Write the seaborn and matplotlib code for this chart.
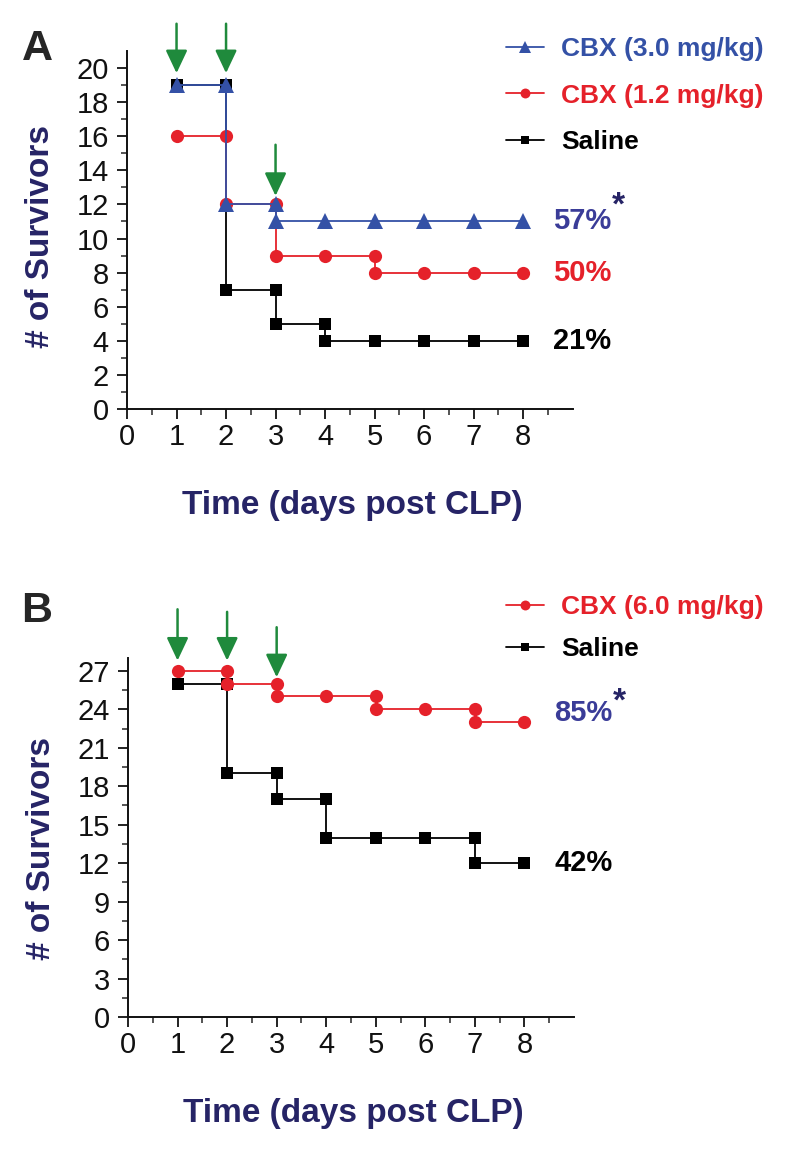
import numpy as np
import pandas as pd
import matplotlib
matplotlib.use("Agg")
import matplotlib.pyplot as plt
import seaborn as sns

# ---- data ----
# Panel A: survivors per day, drop points repeated at the same day
DAYS_A_CBX30 = [1, 2, 2, 3, 3, 4, 5, 6, 7, 8]
SURV_A_CBX30 = [19, 19, 12, 12, 11, 11, 11, 11, 11, 11]
DAYS_A_CBX12 = [1, 2, 2, 3, 3, 4, 5, 5, 6, 7, 8]
SURV_A_CBX12 = [16, 16, 12, 12, 9, 9, 9, 8, 8, 8, 8]
DAYS_A_SAL = [1, 2, 2, 3, 3, 4, 4, 5, 6, 7, 8]
SURV_A_SAL = [19, 19, 7, 7, 5, 5, 4, 4, 4, 4, 4]

# Panel B
DAYS_B_CBX60 = [1, 2, 2, 3, 3, 4, 5, 5, 6, 7, 7, 8]
SURV_B_CBX60 = [27, 27, 26, 26, 25, 25, 25, 24, 24, 24, 23, 23]
DAYS_B_SAL = [1, 2, 2, 3, 3, 4, 4, 5, 6, 7, 7, 8]
SURV_B_SAL = [26, 26, 19, 19, 17, 17, 14, 14, 14, 14, 12, 12]

DOSE_DAYS_A = [1, 2, 3]
DOSE_DAYS_B = [1, 2, 3]

PCT_A = ["57%", "50%", "21%"]
PCT_A_Y = [11, 8, 4]
PCT_B = ["85%", "42%"]
PCT_B_Y = [23.7, 12]

BLUE = "#3451a6"
RED = "#e5212a"
BLACK = "#000000"
NAVY = "#262466"
PCT_BLUE = "#3a3c98"
GREEN = "#1f8a3c"

sns.set_style("ticks")
plt.rcParams["font.family"] = ["Liberation Sans", "DejaVu Sans"]


def series_df(days, surv):
    return pd.DataFrame({"day": days, "survivors": surv})


def draw_series(ax, days, surv, color, marker, ms, label):
    sns.lineplot(data=series_df(days, surv), x="day", y="survivors",
                 sort=False, estimator=None, color=color, marker=marker,
                 markersize=ms, markeredgewidth=0, linewidth=1.3,
                 label=label, ax=ax, legend=False)


def style_axis(ax, ymax, ymajor, yminor):
    ax.set_xlim(0, 9)
    ax.set_ylim(0, ymax)
    ax.set_xticks(np.arange(0, 9, 1))
    ax.set_xticks(np.arange(0.5, 9, 1), minor=True)
    ax.set_yticks(ymajor)
    ax.set_yticks(yminor, minor=True)
    ax.tick_params(axis="both", which="major", direction="out", length=7,
                   width=1.3, labelsize=21, colors="#111111")
    ax.tick_params(axis="x", which="major", pad=3)
    ax.tick_params(axis="y", which="major", pad=6)
    ax.tick_params(axis="both", which="minor", direction="out", length=4,
                   width=1.1)
    for s in ["top", "right"]:
        ax.spines[s].set_visible(False)
    for s in ["left", "bottom"]:
        ax.spines[s].set_linewidth(1.4)
        ax.spines[s].set_color("#111111")
    ax.set_xlabel("Time (days post CLP)", fontsize=24, fontweight="bold",
                  color=NAVY)
    ax.set_ylabel("# of Survivors", fontsize=24, fontweight="bold",
                  color=NAVY)
    ax.xaxis.set_label_coords(0.505, -0.225)


def dose_arrows(ax, days, tops, tips):
    for d, t0, t1 in zip(days, tops, tips):
        ax.annotate("", xy=(d, t1), xytext=(d, t0),
                    arrowprops=dict(arrowstyle="-|>,head_width=0.33,head_length=0.7",
                                    color=GREEN, lw=1.8, shrinkA=0, shrinkB=0,
                                    mutation_scale=20),
                    annotation_clip=False)


def add_legend(ax, order, colors, top_px, spacing):
    h, l = ax.get_legend_handles_labels()
    leg = fig.legend([h[i] for i in order], [l[i] for i in order],
                     loc="upper left", bbox_to_anchor=(506 / 790, 1 - top_px / 1154),
                     frameon=False, borderpad=0, borderaxespad=0,
                     handlelength=1.45, handletextpad=0.65, labelspacing=spacing,
                     markerscale=0.75, prop={"size": 19, "weight": "bold"})
    for t, c in zip(leg.get_texts(), colors):
        t.set_color(c)
    return leg


fig = plt.figure(figsize=(7.9, 11.54), dpi=100)

# ---------- Panel A ----------
axA = fig.add_axes([0.1608, 0.6456, 0.564, 0.3102])
draw_series(axA, DAYS_A_SAL, SURV_A_SAL, BLACK, "s", 8, "Saline")
draw_series(axA, DAYS_A_CBX12, SURV_A_CBX12, RED, "o", 9.5, "CBX (1.2 mg/kg)")
draw_series(axA, DAYS_A_CBX30, SURV_A_CBX30, BLUE, "^", 11, "CBX (3.0 mg/kg)")
style_axis(axA, 21, np.arange(0, 21, 2), np.arange(1, 21, 2))
axA.yaxis.set_label_coords(-0.16, 0.483)
dose_arrows(axA, DOSE_DAYS_A, [22.6, 22.6, 15.5], [19.7, 19.7, 12.5])

for txt, y, c in zip(PCT_A, PCT_A_Y, [PCT_BLUE, RED, BLACK]):
    axA.text(8.6, y, txt, color=c, fontsize=21, fontweight="bold",
             va="center", ha="left", clip_on=False)
axA.text(9.93, 11.9, "*", color=NAVY, fontsize=24, fontweight="bold",
         va="center", ha="center", clip_on=False)

add_legend(axA, [2, 1, 0], [BLUE, RED, BLACK], 37, 0.86)

fig.text(37 / 790, 1 - 49 / 1154, "A", fontsize=31, fontweight="bold",
         ha="center", va="center")

# ---------- Panel B ----------
axB = fig.add_axes([0.162, 0.1187, 0.5646, 0.3111])
draw_series(axB, DAYS_B_SAL, SURV_B_SAL, BLACK, "s", 8, "Saline")
draw_series(axB, DAYS_B_CBX60, SURV_B_CBX60, RED, "o", 9.5, "CBX (6.0 mg/kg)")
style_axis(axB, 28, np.arange(0, 28, 3), np.arange(1.5, 28, 3))
axB.yaxis.set_label_coords(-0.16, 0.47)
dose_arrows(axB, DOSE_DAYS_B, [31.8, 31.6, 30.4], [27.8, 27.8, 26.5])

for txt, y, c in zip(PCT_B, PCT_B_Y, [PCT_BLUE, BLACK]):
    axB.text(8.6, y, txt, color=c, fontsize=21, fontweight="bold",
             va="center", ha="left", clip_on=False)
axB.text(9.92, 24.6, "*", color=NAVY, fontsize=24, fontweight="bold",
         va="center", ha="center", clip_on=False)

add_legend(axB, [1, 0], [RED, BLACK], 595, 0.69)

fig.text(37 / 790, 1 - 611 / 1154, "B", fontsize=31, fontweight="bold",
         ha="center", va="center")

fig.savefig("out.png", dpi=100)
